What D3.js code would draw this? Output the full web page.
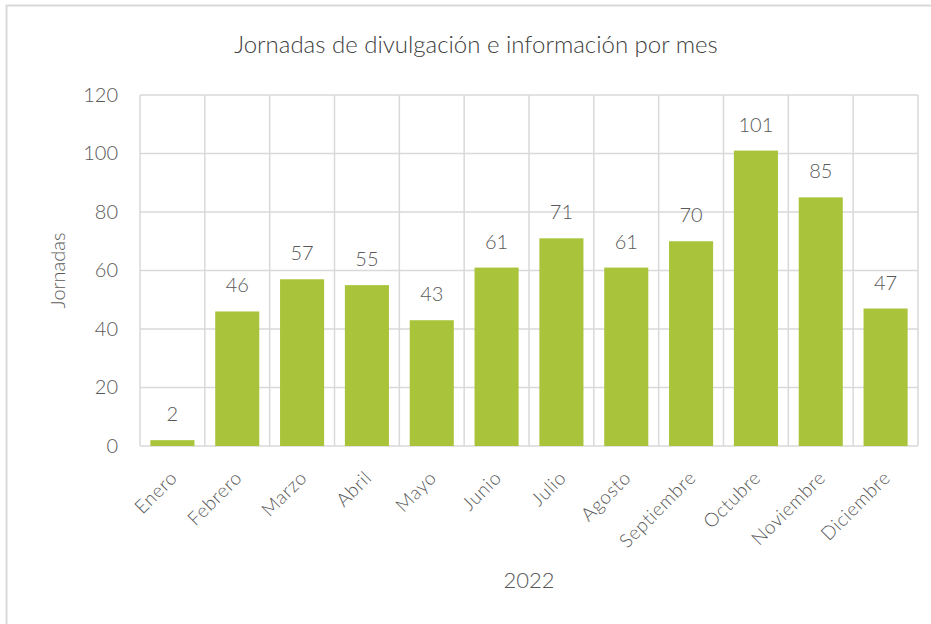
<!DOCTYPE html>
<html>
<head>
    <title>Jornadas por mes</title>
    <script src="https://cdnjs.cloudflare.com/ajax/libs/d3/7.8.5/d3.min.js"></script>
</head>
<body style="margin:0; background:#fff;">
<svg id="chart" width="931" height="624"></svg>
<script>
    // data
    var months = ['Enero', 'Febrero', 'Marzo', 'Abril', 'Mayo', 'Junio', 'Julio',
                  'Agosto', 'Septiembre', 'Octubre', 'Noviembre', 'Diciembre'];
    var jornadas = [2, 46, 57, 55, 43, 61, 71, 61, 70, 101, 85, 47];
    var yTicks = [0, 20, 40, 60, 80, 100, 120];

    var font = 'Lato, "Open Sans", sans-serif';
    var textColor = '#595959';
    var svg = d3.select('#chart');

    // outer frame (runs off the right and bottom edges)
    svg.append('rect')
        .attr('x', 6.5).attr('y', 5.5)
        .attr('width', 940).attr('height', 640)
        .attr('fill', '#fff')
        .attr('stroke', '#d9d9d9')
        .attr('stroke-width', 2);

    var plotLeft = 140, plotRight = 918, plotTop = 95, plotBottom = 446;

    var x = d3.scaleBand().domain(months).range([plotLeft, plotRight]).paddingInner(0.32).paddingOuter(0.16);
    var xCell = d3.scaleBand().domain(months).range([plotLeft, plotRight]);
    var y = d3.scaleLinear().domain([0, 120]).range([plotBottom, plotTop]);

    // grid
    var grid = svg.append('g').attr('stroke', '#d9d9d9').attr('stroke-width', 1.5);
    grid.selectAll('line.h').data(yTicks).enter().append('line')
        .attr('x1', plotLeft).attr('x2', plotRight)
        .attr('y1', function (d) { return y(d); })
        .attr('y2', function (d) { return y(d); });
    var vx = months.map(function (m) { return xCell(m); }).concat([plotRight]);
    grid.selectAll('line.v').data(vx).enter().append('line')
        .attr('x1', function (d) { return d; }).attr('x2', function (d) { return d; })
        .attr('y1', plotTop).attr('y2', plotBottom);

    // bars
    svg.append('g').selectAll('rect').data(jornadas).enter().append('rect')
        .attr('x', function (d, i) { return x(months[i]); })
        .attr('width', x.bandwidth())
        .attr('y', function (d) { return y(d); })
        .attr('height', function (d) { return plotBottom - y(d); })
        .attr('fill', '#a9c43a');

    // value labels
    svg.append('g').selectAll('text').data(jornadas).enter().append('text')
        .attr('x', function (d, i) { return x(months[i]) + x.bandwidth() / 2; })
        .attr('y', function (d) { return y(d) - 19; })
        .attr('text-anchor', 'middle')
        .attr('font-family', font).attr('font-weight', 300)
        .attr('font-size', 20).attr('fill', textColor)
        .text(function (d) { return d; });

    // y axis labels
    var yAxis = d3.axisLeft(y).tickValues(yTicks).tickSize(0).tickPadding(22);
    var yg = svg.append('g').attr('transform', 'translate(' + plotLeft + ',0)').call(yAxis);
    yg.select('.domain').remove();
    yg.selectAll('text')
        .attr('font-family', font).attr('font-weight', 300)
        .attr('font-size', 20).attr('fill', textColor);

    // x axis labels
    var xAxis = d3.axisBottom(xCell).tickSize(0).tickPadding(0);
    var xg = svg.append('g').attr('transform', 'translate(0,' + plotBottom + ')').call(xAxis);
    xg.select('.domain').remove();
    xg.selectAll('text')
        .attr('font-family', font).attr('font-weight', 300)
        .attr('font-size', 19).attr('fill', textColor)
        .attr('letter-spacing', 0.6)
        .attr('text-anchor', 'end')
        .attr('dy', 0).attr('y', 0)
        .attr('transform', 'translate(6,33) rotate(-45)');

    // titles
    svg.append('text')
        .attr('x', 476).attr('y', 53)
        .attr('text-anchor', 'middle')
        .attr('font-family', font).attr('font-weight', 300)
        .attr('font-size', 24).attr('fill', '#404040')
        .text('Jornadas de divulgación e información por mes');

    svg.append('text')
        .attr('transform', 'translate(65,' + ((plotTop + plotBottom) / 2) + ') rotate(-90)')
        .attr('text-anchor', 'middle')
        .attr('font-family', font).attr('font-weight', 300)
        .attr('font-size', 20).attr('fill', textColor)
        .text('Jornadas');

    svg.append('text')
        .attr('x', (plotLeft + plotRight) / 2).attr('y', 588)
        .attr('text-anchor', 'middle')
        .attr('font-family', font).attr('font-weight', 300)
        .attr('font-size', 22).attr('fill', textColor)
        .text('2022');
</script>
</body>
</html>
